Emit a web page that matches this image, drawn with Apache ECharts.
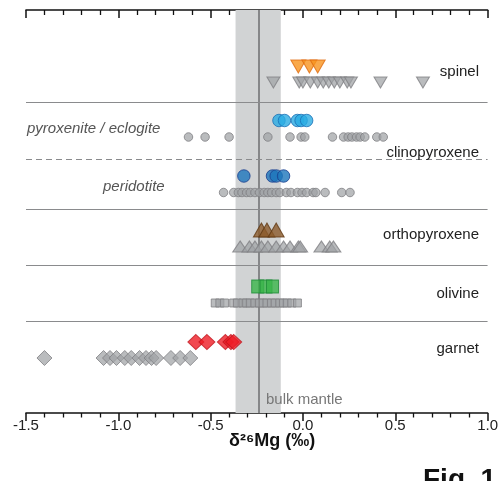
<!DOCTYPE html>
<html><head><meta charset="utf-8">
<script src="https://cdn.jsdelivr.net/npm/echarts@6/dist/echarts.min.js"></script>
<style>html,body{margin:0;padding:0;background:#fff}#c{width:501px;height:481px}</style>
</head><body><div id="c"></div>
<script>
// ---- data (δ26Mg, ‰) ----
const xTickLabels = ['-1.5','-1.0','-0.5','0.0','0.5','1.0'];
const bulkMantle = -0.245;
const bulkMantleRange = [-0.365, -0.12];

const spinelCoexist = [-0.025, 0.035, 0.08];
const spinelAll = [-0.16, -0.02, 0.0, 0.04, 0.08, 0.11, 0.14, 0.17, 0.2, 0.24, 0.26, 0.42, 0.65];

const cpxPyroxenite = [-0.13, -0.10, -0.03, -0.01, 0.02];
const cpxPyroxeniteAll = [-0.62, -0.53, -0.40, -0.19, -0.07, -0.01, 0.01, 0.16, 0.22, 0.245, 0.265, 0.29, 0.31, 0.335, 0.40, 0.435];

const cpxPeridotite = [-0.32, -0.165, -0.145, -0.105];
const cpxPeridotiteAll = [-0.43, -0.375, -0.35, -0.33, -0.305, -0.285, -0.26, -0.235, -0.21, -0.19, -0.17, -0.145, -0.125, -0.09, -0.065, -0.03, -0.005, 0.02, 0.055, 0.07, 0.12, 0.21, 0.255];

const opxCoexist = [-0.225, -0.195, -0.145];
const opxAll = [-0.34, -0.29, -0.26, -0.225, -0.19, -0.145, -0.105, -0.07, -0.025, -0.015, 0.10, 0.145, 0.165];

const olCoexist = [-0.245, -0.2, -0.165];
const olAll = [-0.475, -0.45, -0.425, -0.375, -0.355, -0.325, -0.305, -0.285, -0.26, -0.235, -0.215, -0.195, -0.17, -0.15, -0.125, -0.105, -0.085, -0.06, -0.03];

const grtCoexist = [-0.58, -0.52, -0.42, -0.39, -0.375];
const grtAll = [-1.40, -1.08, -1.045, -1.01, -0.965, -0.93, -0.885, -0.85, -0.82, -0.795, -0.715, -0.665, -0.61];

// row levels (plot units, top = 0)
const rows = {spinelA:5.65, spinelB:7.25, cpxA:11.05, cpxB:12.7, perA:16.6, perB:18.25,
              opxA:22.0, opxB:23.65, olA:27.65, olB:29.3, grtA:33.2, grtB:34.8};
const separators = [9.2, 19.9, 25.55, 31.1];
const dashedSeparator = 14.95;

const rowLabels = [
  {text:'spinel', y:72}, {text:'clinopyroxene', y:153}, {text:'orthopyroxene', y:235},
  {text:'olivine', y:294}, {text:'garnet', y:349}
];

// ---- chart ----
const FONT = '"Liberation Sans", Arial, sans-serif';
const GRAY = {color:'rgba(160,162,165,0.9)', borderColor:'#7f8083', borderWidth:1};
function pts(arr, y){ return arr.map(v => [v, y]); }
function sc(name, arr, y, symbol, size, style, rotate){
  return {name, type:'scatter', z:5, data:pts(arr,y), symbol, symbolSize:size,
    symbolRotate: rotate||0, itemStyle:style, emphasis:{disabled:true}, silent:true};
}

const chart = echarts.init(document.getElementById('c'), null, {renderer:'canvas'});
const axisCommon = {
  type:'value', min:-1.5, max:1.0, interval:0.5,
  axisLine:{show:true, onZero:false, lineStyle:{color:'#111', width:1.6}},
  axisTick:{show:true, length:8, lineStyle:{color:'#111', width:1.5}},
  minorTick:{show:true, splitNumber:5, length:4.5, lineStyle:{color:'#111', width:1.3}},
  splitLine:{show:false}, minorSplitLine:{show:false}
};
chart.setOption({
  animation:false,
  backgroundColor:'#fff',
  grid:{left:26, right:13, top:10, bottom:68},
  xAxis:[
    Object.assign({}, axisCommon, {position:'bottom',
      axisLabel:{show:true, margin:5, fontSize:15, color:'#222', fontFamily:FONT,
        formatter:(v)=>{ const i = Math.round((v+1.5)/0.5); return xTickLabels[i]; }}}),
    Object.assign({}, axisCommon, {position:'top', axisLabel:{show:false},
      axisTick:{show:true, inside:true, length:8, lineStyle:{color:'#111', width:1.5}},
      minorTick:{show:true, splitNumber:5, length:5, lineStyle:{color:'#111', width:1.3}}})
  ],
  yAxis:{type:'value', min:0, max:40.3, inverse:true, show:false},
  series:[
    {type:'scatter', data:[], z:1, silent:true,
      markArea:{silent:true, itemStyle:{color:'#d1d3d4'}, data:[[{xAxis:bulkMantleRange[0]},{xAxis:bulkMantleRange[1]}]]},
      markLine:{silent:true, symbol:['none','none'], label:{show:false},
        lineStyle:{color:'#6d6e71', width:1.5, type:'solid'}, data:[{xAxis:bulkMantle}]}},
    {type:'scatter', data:[], z:2, silent:true,
      markLine:{silent:true, symbol:['none','none'], label:{show:false},
        lineStyle:{color:'#8a8b8d', width:1, type:'solid'},
        data: separators.map(v=>({yAxis:v})).concat([{yAxis:dashedSeparator, lineStyle:{type:[6,4], color:'#8a8b8d', width:1}}])}},
    sc('spinelAll', spinelAll, rows.spinelB, 'triangle', [13,11], GRAY, 180),
    sc('spinel', spinelCoexist, rows.spinelA, 'triangle', [15,13], {color:'#f7931e', borderColor:'#e06d10', borderWidth:1}, 180),
    sc('cpxPxAll', cpxPyroxeniteAll, rows.cpxB, 'circle', 8.5, GRAY),
    sc('cpxPx', cpxPyroxenite, rows.cpxA, 'circle', 12.5, {color:'#29abe2', borderColor:'#1a6fb5', borderWidth:1}),
    sc('cpxPerAll', cpxPeridotiteAll, rows.perB, 'circle', 8.5, GRAY),
    sc('cpxPer', cpxPeridotite, rows.perA, 'circle', 12.5, {color:'#1c75bc', borderColor:'#1b3f8f', borderWidth:1}),
    sc('opxAll', opxAll, rows.opxB, 'triangle', [15,11], GRAY),
    sc('opx', opxCoexist, rows.opxA, 'triangle', [16,14], {color:'#8b5a2b', borderColor:'#603813', borderWidth:1}),
    sc('olAll', olAll, rows.olB, 'rect', [8,8], GRAY),
    sc('ol', olCoexist, rows.olA, 'rect', [12,13], {color:'#39b54a', borderColor:'#1d8a36', borderWidth:1}),
    sc('grtAll', grtAll, rows.grtB, 'diamond', [15,15], GRAY),
    sc('grt', grtCoexist, rows.grtA, 'diamond', [16,15], {color:'#ed1c24', borderColor:'#c1121a', borderWidth:1})
  ],
  graphic: rowLabels.map(l => ({type:'text', right:22, top:l.y-8, z:100, silent:true,
      style:{text:l.text, font:'15px '+FONT, fill:'#222'}}))
    .concat([
      {type:'text', left:27, top:121, z:100, silent:true, style:{text:'pyroxenite / eclogite', font:'italic 15px '+FONT, fill:'#555'}},
      {type:'text', left:103, top:179, z:100, silent:true, style:{text:'peridotite', font:'italic 15px '+FONT, fill:'#555'}},
      {type:'text', left:266, top:392, z:100, silent:true, style:{text:'bulk mantle', font:'15px '+FONT, fill:'#777'}},
      {type:'text', left:229, top:432, z:100, silent:true, style:{text:'δ²⁶Mg (‰)', font:'bold 18px '+FONT, fill:'#111'}},
      {type:'text', left:423, top:466, z:100, silent:true, style:{text:'Fig. 1', font:'bold 28px '+FONT, fill:'#111'}}
    ])
});
</script></body></html>
